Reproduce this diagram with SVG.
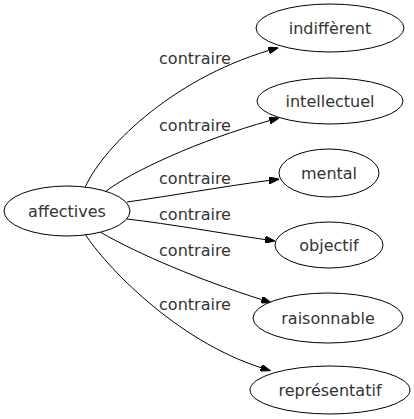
<svg xmlns="http://www.w3.org/2000/svg" width="414" height="419" viewBox="0 0 414 419">
<style>
  .node ellipse { fill: #ffffff; stroke: #000000; stroke-width: 1; }
  text { font-family: "DejaVu Sans", "Liberation Sans", sans-serif; font-size: 16px; fill: #333333; text-anchor: middle; }
  .edge path { fill: none; stroke: #000000; stroke-width: 1; }
</style>
<defs>
  <marker id="arrow" viewBox="0 0 10 7" refX="0" refY="3.5" markerWidth="10" markerHeight="7" markerUnits="userSpaceOnUse" orient="auto">
    <polygon points="0,0 10,3.5 0,7" fill="#000000" stroke="#000000" stroke-width="1"/>
  </marker>
</defs>
<rect width="414" height="419" fill="#ffffff"/>
<g id="edges" class="edge">
  <path d="M84,190 C100,150 170,80 268.7,50.5" marker-end="url(#arrow)"/>
  <path d="M105,192 C130,172 200,140 269.4,120.7" marker-end="url(#arrow)"/>
  <path d="M127,202 C170,196 220,187 269.1,180.4" marker-end="url(#arrow)"/>
  <path d="M127,219 C170,224 220,233 265.1,239.6" marker-end="url(#arrow)"/>
  <path d="M100,232 C140,255 200,280 261.6,299.6" marker-end="url(#arrow)"/>
  <path d="M85,234 C105,265 175,340 261,367.7" marker-end="url(#arrow)"/>
  <text x="195" y="64">contraire</text>
  <text x="195" y="131">contraire</text>
  <text x="195" y="184">contraire</text>
  <text x="195" y="220">contraire</text>
  <text x="195" y="256">contraire</text>
  <text x="195" y="310">contraire</text>
</g>
<g id="affectives" class="node">
  <ellipse cx="67" cy="211" rx="63" ry="25"/>
  <text x="67" y="217">affectives</text>
</g>
<g id="indifferent" class="node">
  <ellipse cx="330" cy="28" rx="74" ry="24"/>
  <text x="330" y="34">indiffèrent</text>
</g>
<g id="intellectuel" class="node">
  <ellipse cx="330" cy="101" rx="73" ry="23"/>
  <text x="330" y="107">intellectuel</text>
</g>
<g id="mental" class="node">
  <ellipse cx="329" cy="173" rx="50" ry="24"/>
  <text x="329" y="179">mental</text>
</g>
<g id="objectif" class="node">
  <ellipse cx="329" cy="245" rx="54" ry="23"/>
  <text x="329" y="251">objectif</text>
</g>
<g id="raisonnable" class="node">
  <ellipse cx="328" cy="318" rx="75" ry="25"/>
  <text x="328" y="324">raisonnable</text>
</g>
<g id="representatif" class="node">
  <ellipse cx="330" cy="390" rx="80" ry="24"/>
  <text x="330" y="396">représentatif</text>
</g>
</svg>
